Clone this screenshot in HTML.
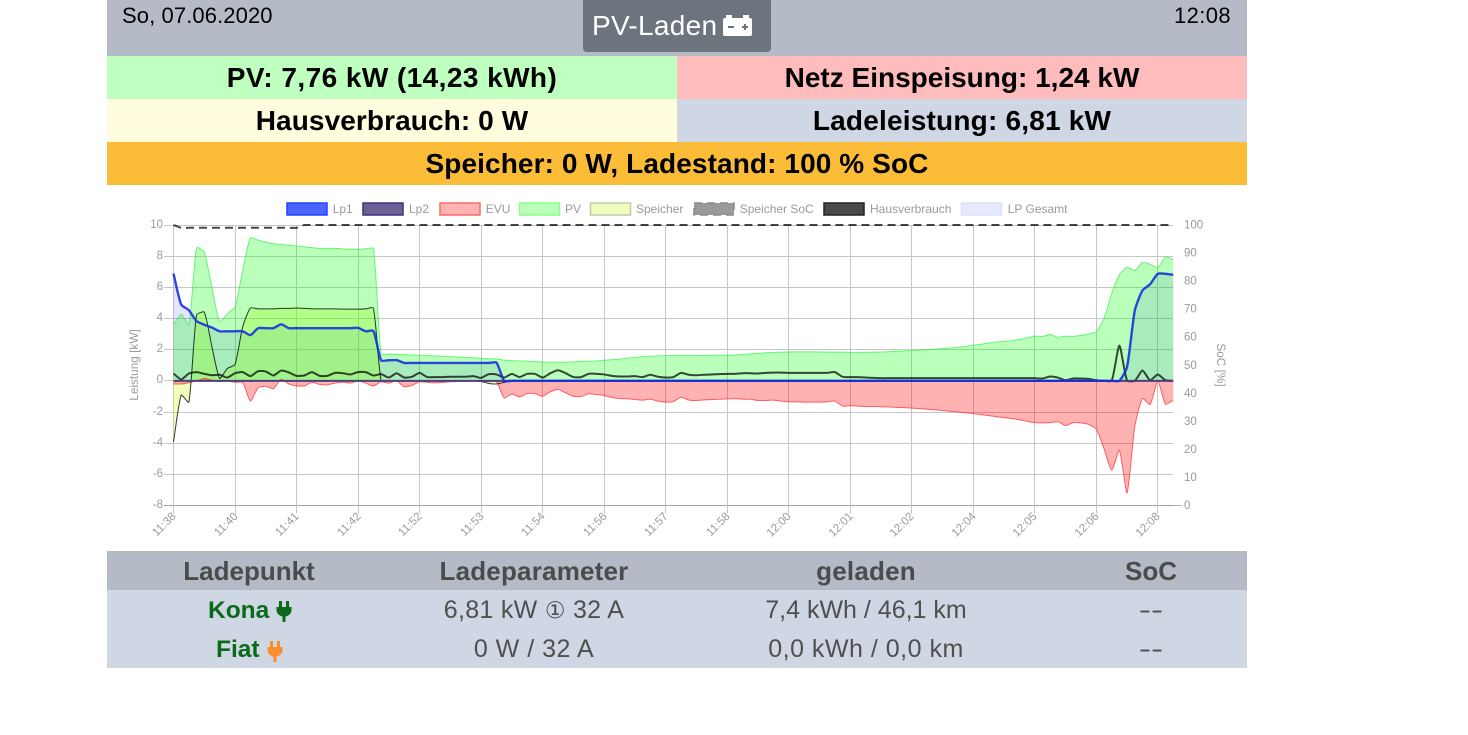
<!DOCTYPE html>
<html lang="de">
<head>
<meta charset="utf-8">
<title>openWB PV-Laden</title>
<style>
html,body{margin:0;padding:0;background:#fff;}
body{width:1468px;height:735px;overflow:hidden;position:relative;font-family:"Liberation Sans","DejaVu Sans",sans-serif;}
.band{position:absolute;}
.t{position:absolute;white-space:nowrap;text-align:center;}
.stat{font-weight:bold;font-size:28px;color:#000;line-height:43px;height:43px;}
.th{top:552px;height:39px;line-height:39px;font-weight:bold;font-size:26px;color:#4b4b4b;}
.td{height:39px;line-height:39px;font-size:25px;color:#4f4f4f;}
svg text{font-family:"Liberation Sans",sans-serif;}
</style>
</head>
<body>
<div class="band" style="left:107px;top:0;width:1140px;height:56px;background:#b4bbc7"></div>
<div class="t" style="left:122px;top:3px;font-size:22px;line-height:26px;color:#000;letter-spacing:.1px">So, 07.06.2020</div>
<div class="t" style="left:1174px;top:3px;font-size:22px;line-height:26px;color:#000;letter-spacing:.4px">12:08</div>
<div class="band" style="left:583px;top:-4px;width:188px;height:56px;background:#6c757d;border-radius:4px"></div>
<div class="t" style="left:592px;top:9px;font-size:28px;line-height:34px;color:#fff;letter-spacing:.3px">PV-Laden</div>
<svg style="position:absolute;left:723px;top:14px" width="30" height="24" viewBox="0 0 30 24">
<rect x="0" y="4" width="29" height="18" rx="2" fill="#fff"/><rect x="3" y="1" width="6" height="4" fill="#fff"/><rect x="20" y="1" width="6" height="4" fill="#fff"/>
<rect x="5" y="12" width="6" height="2" fill="#6c757d"/><rect x="19" y="12" width="6" height="2" fill="#6c757d"/><rect x="21" y="10" width="2" height="6" fill="#6c757d"/>
</svg>

<div class="band" style="left:107px;top:56px;width:570px;height:43px;background:#bfffbf"></div>
<div class="band" style="left:677px;top:56px;width:570px;height:43px;background:#ffbcbc"></div>
<div class="band" style="left:107px;top:99px;width:570px;height:43px;background:#fffddd"></div>
<div class="band" style="left:677px;top:99px;width:570px;height:43px;background:#d0d7e4"></div>
<div class="band" style="left:107px;top:142px;width:1140px;height:43px;background:#fbbd37"></div>
<div class="t stat" style="left:107px;top:56px;width:570px;letter-spacing:.43px">PV: 7,76 kW (14,23 kWh)</div>
<div class="t stat" style="left:677px;top:56px;width:570px">Netz Einspeisung: 1,24 kW</div>
<div class="t stat" style="left:107px;top:99px;width:570px;letter-spacing:.1px">Hausverbrauch: 0 W</div>
<div class="t stat" style="left:677px;top:99px;width:570px;letter-spacing:.2px">Ladeleistung: 6,81 kW</div>
<div class="t stat" style="left:107px;top:142px;width:1140px;letter-spacing:.1px">Speicher: 0 W, Ladestand: 100 % SoC</div>

<svg id="chart" style="position:absolute;left:0;top:0" width="1468" height="735" viewBox="0 0 1468 735">
  <g id="grid-layer"></g>
  <g id="series-layer"></g>
  <g id="tick-layer" font-size="11.5" fill="#9a9a9a"></g>
  <text transform="translate(138,365) rotate(-90)" text-anchor="middle" font-size="11.8" fill="#9a9a9a">Leistung [kW]</text>
  <text transform="translate(1217,365) rotate(90)" text-anchor="middle" font-size="11.8" fill="#9a9a9a">SoC [%]</text>
  <g font-size="12" fill="#9a9a9a">
    <g><rect x="287" y="203" width="40" height="12" fill="#4b64ff" stroke="#2244ff" stroke-width="1.5"/><text x="332.7" y="213">Lp1</text></g>
    <g><rect x="363" y="203" width="40" height="12" fill="#6b5f96" stroke="#3f3478" stroke-width="1.5"/><text x="409" y="213">Lp2</text></g>
    <g><rect x="440" y="203" width="40" height="12" fill="#ffb3b3" stroke="#ff6a6a" stroke-width="1.5"/><text x="485.7" y="213">EVU</text></g>
    <g><rect x="519.500" y="203" width="40" height="12" fill="#bbffbb" stroke="#88ff88" stroke-width="1.5"/><text x="565" y="213">PV</text></g>
    <g><rect x="590.500" y="203" width="40" height="12" fill="#eeffbb" stroke="#c4c8a8" stroke-width="1.5"/><text x="636" y="213">Speicher</text></g>
    <g><rect x="694" y="203" width="40" height="12" fill="#999" stroke="#8a8a8a" stroke-width="1.5" stroke-dasharray="8 5"/><text x="739.7" y="213">Speicher SoC</text></g>
    <g><rect x="824" y="203" width="40" height="12" fill="#4a4a4a" stroke="#222" stroke-width="1.5"/><text x="870" y="213">Hausverbrauch</text></g>
    <g><rect x="961.500" y="203" width="40" height="12" fill="#e5e8ff" stroke="#dfe3f5" stroke-width="1.5"/><text x="1007.7" y="213">LP Gesamt</text></g>
  </g>
</svg>

<div class="band" style="left:107px;top:551px;width:1140px;height:39px;background:#b4bbc7"></div>
<div class="band" style="left:107px;top:590px;width:1140px;height:78px;background:#d0d7e4"></div>
<div class="t th" style="left:149px;width:200px">Ladepunkt</div>
<div class="t th" style="left:384px;width:300px;letter-spacing:.2px">Ladeparameter</div>
<div class="t th" style="left:716px;width:300px;letter-spacing:.2px">geladen</div>
<div class="t th" style="left:1051px;width:200px">SoC</div>

<div class="t td" style="left:208px;top:591px;font-weight:bold;color:#0b6a1a;font-size:24.500px">Kona</div>
<svg style="position:absolute;left:275.500px;top:600px" width="16" height="23" viewBox="0 0 16 23"><rect x="3" y="1" width="3" height="6" fill="#0b6a1a"/><rect x="10" y="1" width="3" height="6" fill="#0b6a1a"/><path d="M0.500 7H15.500V10C15.500 14 12 16 9.500 16.500V22H6.500V16.500C4 16 0.500 14 0.500 10Z" fill="#0b6a1a"/></svg>
<div class="t td" style="left:384px;top:591px;width:300px;letter-spacing:.3px">6,81 kW <span style="font-family:'DejaVu Sans',sans-serif;font-size:23px">①</span> 32 A</div>
<div class="t td" style="left:716px;top:591px;width:300px">7,4 kWh / 46,1 km</div>
<div class="t td" style="left:1051px;top:591px;width:200px;transform:scaleX(1.45)">--</div>

<div class="t td" style="left:216px;top:630px;font-weight:bold;color:#0b6a1a;font-size:24.500px">Fiat</div>
<svg style="position:absolute;left:267px;top:640px" width="16" height="23" viewBox="0 0 16 23"><rect x="3" y="1" width="3" height="6" fill="#fd8c2c"/><rect x="10" y="1" width="3" height="6" fill="#fd8c2c"/><path d="M0.500 7H15.500V10C15.500 14 12 16 9.500 16.500V22H6.500V16.500C4 16 0.500 14 0.500 10Z" fill="#fd8c2c"/></svg>
<div class="t td" style="left:384px;top:630px;width:300px;letter-spacing:.5px">0 W / 32 A</div>
<div class="t td" style="left:716px;top:630px;width:300px;letter-spacing:.5px">0,0 kWh / 0,0 km</div>
<div class="t td" style="left:1051px;top:630px;width:200px;transform:scaleX(1.45)">--</div>

<script>
const xTickLabels = ["11:38","11:40","11:41","11:42","11:52","11:53","11:54","11:56","11:57","11:58","12:00","12:01","12:02","12:04","12:05","12:06","12:08"];
const yTicksLeft = [10,8,6,4,2,0,-2,-4,-6,-8];
const yTicksRight = [100,90,80,70,60,50,40,30,20,10,0];
const pvValues = [3.6,4.27,3.6,8.54,8.26,6.0,3.78,4.3,4.75,7.1,
9.18,9.03,8.9,8.8,8.75,8.7,8.65,8.6,8.55,8.5,
8.5,8.5,8.47,8.45,8.45,8.47,8.5,1.75,1.72,1.7,
1.68,1.66,1.64,1.62,1.6,1.58,1.55,1.53,1.5,1.48,
1.45,1.42,1.4,1.32,1.3,1.28,1.26,1.24,1.2,1.2,
1.2,1.2,1.22,1.24,1.26,1.28,1.32,1.36,1.4,1.45,
1.5,1.55,1.58,1.6,1.62,1.63,1.63,1.63,1.63,1.63,
1.64,1.64,1.64,1.66,1.7,1.73,1.76,1.8,1.82,1.84,
1.85,1.86,1.86,1.86,1.85,1.85,1.84,1.84,1.83,1.83,
1.83,1.84,1.85,1.87,1.9,1.92,1.94,1.97,2.0,2.03,
2.07,2.11,2.15,2.2,2.29,2.35,2.42,2.48,2.53,2.58,
2.65,2.76,2.87,2.85,2.97,2.8,2.86,2.86,2.92,3.0,
3.16,4.0,5.6,6.8,7.3,7.08,7.6,7.48,7.26,7.95,7.78];
const evuValues = [-0.2,-0.2,-0.12,0,0.15,0.05,-0.05,0,-0.1,-0.1,
-1.3,-0.45,-0.35,-0.5,0.1,-0.2,-0.33,-0.33,-0.1,-0.23,
-0.25,-0.15,-0.08,-0.15,0,-0.15,-0.33,-0.06,-0.15,0,
-0.38,-0.3,-0.06,-0.1,-0.13,-0.1,-0.06,-0.04,-0.02,-0.02,
-0.02,-0.06,-0.06,-1.1,-0.85,-1.03,-0.81,-0.81,-1,-0.7,
-0.55,-0.77,-1,-1,-0.83,-0.88,-0.94,-1.07,-1.13,-1.15,
-1.2,-1.24,-1.18,-1.3,-1.37,-1.33,-1.05,-1.24,-1.26,-1.22,
-1.2,-1.18,-1.16,-1.14,-1.18,-1.18,-1.26,-1.26,-1.24,-1.3,
-1.35,-1.35,-1.37,-1.37,-1.37,-1.35,-1.3,-1.62,-1.6,-1.62,
-1.65,-1.65,-1.66,-1.68,-1.7,-1.72,-1.75,-1.78,-1.82,-1.86,
-1.9,-1.95,-2,-2.05,-2.1,-2.17,-2.23,-2.3,-2.36,-2.42,
-2.5,-2.6,-2.68,-2.7,-2.68,-2.63,-2.87,-2.68,-2.7,-2.8,
-3.1,-4.35,-5.74,-4.45,-7.2,-2.95,-1.13,-1.52,-0.02,-1.5,-1.24];
const lp1Values = [6.88,4.9,4.53,3.83,3.6,3.42,3.18,3.18,3.18,3.18,
2.93,3.38,3.38,3.38,3.63,3.38,3.38,3.38,3.38,3.38,
3.38,3.38,3.38,3.38,3.4,3.18,3.2,1.32,1.32,1.33,
1.15,1.15,1.15,1.15,1.15,1.15,1.15,1.15,1.15,1.15,
1.15,1.15,1.17,0,0,0,0,0,0,0,
0,0,0,0,0,0,0,0,0,0,
0,0,0,0,0,0,0,0,0,0,
0,0,0,0,0,0,0,0,0,0,
0,0,0,0,0,0,0,0,0,0,
0,0,0,0,0,0,0,0,0,0,
0,0,0,0,0,0,0,0,0,0,
0,0,0,0,0,0,0,0,0,0,
0,0,0,0,0.9,4.5,5.8,6.2,6.87,6.87,6.8];
const lp2Values = [0,0,0,0,0,0,0,0,0,0,
0,0,0,0,0,0,0,0,0,0,
0,0,0,0,0,0,0,0,0,0,
0,0,0,0,0,0,0,0,0,0,
0,0,0,0,0,0,0,0,0,0,
0,0,0,0,0,0,0,0,0,0,
0,0,0,0,0,0,0,0,0,0,
0,0,0,0,0,0,0,0,0,0,
0,0,0,0,0,0,0,0,0,0,
0,0,0,0,0,0,0,0,0,0,
0,0,0,0,0,0,0,0,0,0,
0,0,0,0,0,0,0,0,0,0,
0,0,0,0,0,0,0,0,0,0,0];
const lpTotalValues = [6.88,4.9,4.53,3.83,3.6,3.42,3.18,3.18,3.18,3.18,
2.93,3.38,3.38,3.38,3.63,3.38,3.38,3.38,3.38,3.38,
3.38,3.38,3.38,3.38,3.4,3.18,3.2,1.32,1.32,1.33,
1.15,1.15,1.15,1.15,1.15,1.15,1.15,1.15,1.15,1.15,
1.15,1.15,1.17,0,0,0,0,0,0,0,
0,0,0,0,0,0,0,0,0,0,
0,0,0,0,0,0,0,0,0,0,
0,0,0,0,0,0,0,0,0,0,
0,0,0,0,0,0,0,0,0,0,
0,0,0,0,0,0,0,0,0,0,
0,0,0,0,0,0,0,0,0,0,
0,0,0,0,0,0,0,0,0,0,
0,0,0,0,0.9,4.5,5.8,6.2,6.87,6.87,6.8];
const storageValues = [-3.92,-0.92,-1.37,4.22,4.41,2.18,0.15,0.79,1.05,3.47,
4.67,4.62,4.62,4.62,4.65,4.65,4.67,4.65,4.62,4.62,
4.62,4.62,4.6,4.6,4.6,4.62,4.67,0,0,0,
0,0,0,0,0,0,0,0,0,0,
-0.04,-0.17,-0.2,-0.1,0,0,0,0,0,0,
0,0,0,0,0,0,0,0,0,0,
0,0,0,0,0,0,0,0,0,0,
0,0,0,0,0,0,0,0,0,0,
0,0,0,0,0,0,0,0,0,0,
0,0,0,0,0,0,0,0,0,0,
0,0,0,0,0,0,0,0,0,0,
0,0,0,0,0,0,0,0,0,0,
0,0,0,0,0,0,0,0,0,0,0];
const houseValues = [0.47,0.09,0.47,0.56,0.45,0.36,0.39,0.21,0.49,0.56,
0.3,0.62,0.6,0.34,0.66,0.54,0.32,0.34,0.56,0.32,
0.32,0.51,0.49,0.41,0.56,0.56,0.34,0.43,0.21,0.49,
0.21,0.26,0.51,0.24,0.24,0.24,0.26,0.26,0.26,0.3,
0.19,0.43,0.41,0.21,0.45,0.24,0.45,0.45,0.21,0.49,
0.68,0.49,0.24,0.24,0.45,0.45,0.41,0.32,0.28,0.28,
0.3,0.24,0.39,0.26,0.21,0.24,0.51,0.39,0.36,0.39,
0.41,0.43,0.45,0.45,0.49,0.49,0.47,0.51,0.53,0.53,
0.51,0.51,0.51,0.51,0.51,0.51,0.56,0.26,0.24,0.24,
0.21,0.19,0.17,0.17,0.17,0.17,0.17,0.17,0.17,0.17,
0.17,0.17,0.17,0.17,0.17,0.17,0.17,0.17,0.17,0.17,
0.17,0.17,0.17,0.15,0.28,0.21,0.04,0.15,0.15,0.13,
0.04,0,0,2.27,0.02,0,0.66,0.04,0.41,0.04,0];
const socValues = [100,99,99,99,99,99,99,99,99,99,
99,99,99,99,99,99,99,100,100,100,
100,100,100,100,100,100,100,100,100,100,
100,100,100,100,100,100,100,100,100,100,
100,100,100,100,100,100,100,100,100,100,
100,100,100,100,100,100,100,100,100,100,
100,100,100,100,100,100,100,100,100,100,
100,100,100,100,100,100,100,100,100,100,
100,100,100,100,100,100,100,100,100,100,
100,100,100,100,100,100,100,100,100,100,
100,100,100,100,100,100,100,100,100,100,
100,100,100,100,100,100,100,100,100,100,
100,100,100,100,100,100,100,100,100,100,100];

const SVG_NS = "http://www.w3.org/2000/svg";
const plot = {left: 173.5, right: 1173.2, top: 225, bottom: 505.5};
const LABEL_EVERY = 8;
const TENSION = 0.2;

function xScale(i) { return plot.left + i * (plot.right - plot.left) / (pvValues.length - 1); }
function yLeft(v) { return plot.bottom - (v + 8) * (plot.bottom - plot.top) / 18; }
function yRight(v) { return plot.bottom - v * (plot.bottom - plot.top) / 100; }
function clamp(v, lo, hi) { return Math.max(lo, Math.min(hi, v)); }

function make(tag, attrs, parent) {
  const el = document.createElementNS(SVG_NS, tag);
  for (const k in attrs) el.setAttribute(k, attrs[k]);
  parent.appendChild(el);
  return el;
}

function splinePath(pts) {
  const cps = pts.map(function (p, i) {
    const a = pts[i - 1] || p, b = pts[i + 1] || p;
    const d01 = Math.hypot(p.x - a.x, p.y - a.y), d12 = Math.hypot(b.x - p.x, b.y - p.y);
    const sum = d01 + d12 || 1;
    const fa = TENSION * d01 / sum, fb = TENSION * d12 / sum;
    return {
      px: clamp(p.x - fa * (b.x - a.x), plot.left, plot.right),
      py: clamp(p.y - fa * (b.y - a.y), plot.top, plot.bottom),
      nx: clamp(p.x + fb * (b.x - a.x), plot.left, plot.right),
      ny: clamp(p.y + fb * (b.y - a.y), plot.top, plot.bottom)
    };
  });
  let d = "M" + pts[0].x.toFixed(2) + " " + pts[0].y.toFixed(2);
  for (let i = 1; i < pts.length; i++) {
    d += "C" + cps[i - 1].nx.toFixed(2) + " " + cps[i - 1].ny.toFixed(2) + " " +
         cps[i].px.toFixed(2) + " " + cps[i].py.toFixed(2) + " " +
         pts[i].x.toFixed(2) + " " + pts[i].y.toFixed(2);
  }
  return d;
}

function drawSeries(values, scale, fill, stroke, width, dash, name) {
  const layer = document.getElementById("series-layer");
  const pts = values.map(function (v, i) { return {x: xScale(i), y: scale(v)}; });
  const line = splinePath(pts);
  if (fill) {
    const base = yLeft(0).toFixed(2);
    const area = make("path", {d: line + "L" + pts[pts.length - 1].x.toFixed(2) + " " + base + "L" + pts[0].x.toFixed(2) + " " + base + "Z", fill: fill, stroke: "none"}, layer);
    
    
  }
  if (!stroke) return;
  const path = make("path", {d: line, fill: "none", stroke: stroke, "stroke-width": width, "stroke-linejoin": "round"}, layer);
  if (dash) path.setAttribute("stroke-dasharray", dash);
  
  
}

function drawGrid() {
  const grid = document.getElementById("grid-layer");
  const ticks = document.getElementById("tick-layer");
  yTicksLeft.forEach(function (v) {
    const y = Math.round(yLeft(v) - 0.5) + 0.5;
    const gl = make("line", {x1: 164, x2: plot.right, y1: y, y2: y, stroke: v === -8 ? "#a0a0a0" : "#c6c6c6", "stroke-width": 1}, grid);
    
    
    const lb = make("text", {x: 163, y: y - 0.5, "text-anchor": "end", "dominant-baseline": "central"}, ticks);
    lb.textContent = String(v);
    
    
  });
  yTicksRight.forEach(function (v) {
    const lb = make("text", {x: 1184, y: yRight(v) + 0.5, "dominant-baseline": "central"}, ticks);
    lb.textContent = String(v);
    
    
  });
  const rightTick = make("line", {x1: plot.right, x2: 1182, y1: 505.5, y2: 505.5, stroke: "#b0b0b0", "stroke-width": 1}, grid);
  
  
  xTickLabels.forEach(function (label, k) {
    const x = Math.round(xScale(k * LABEL_EVERY) - 0.5) + 0.5;
    const gl = make("line", {x1: x, x2: x, y1: plot.top, y2: plot.bottom + 8, stroke: "#c6c6c6", "stroke-width": 1}, grid);
    
    
    const lb = make("text", {"text-anchor": "end", "font-size": 11.5, transform: "translate(" + (x + 3) + ",517) rotate(-45)"}, ticks);
    lb.textContent = label;
    
    
  });
}

drawGrid();
drawSeries(lpTotalValues, yLeft, "rgba(0,0,255,0.1)", "rgba(0,0,255,0.04)", 1, null, "lp-gesamt");
drawSeries(storageValues, yLeft, "rgba(200,255,13,0.28)", null, 1, null, "speicher");
drawSeries(pvValues, yLeft, "rgba(0,255,0,0.27)", "rgba(40,240,60,0.65)", 1, null, "pv");
drawSeries(evuValues, yLeft, "rgba(255,0,0,0.3)", "rgba(255,50,60,0.75)", 1, null, "evu");
drawSeries(storageValues, yLeft, null, "rgba(0,0,0,0.78)", 1, null, "speicher");
drawSeries(houseValues, yLeft, null, "rgba(0,0,0,0.72)", 2, null, "hausverbrauch");
drawSeries(socValues, yRight, null, "rgba(0,0,0,0.72)", 2, "8 5", "speicher-soc");
drawSeries(lp2Values, yLeft, null, "#4b3f80", 2, null, "lp2");
drawSeries(lp1Values, yLeft, null, "rgba(20,45,225,0.88)", 2.4, null, "lp1");
</script>
</body>
</html>
